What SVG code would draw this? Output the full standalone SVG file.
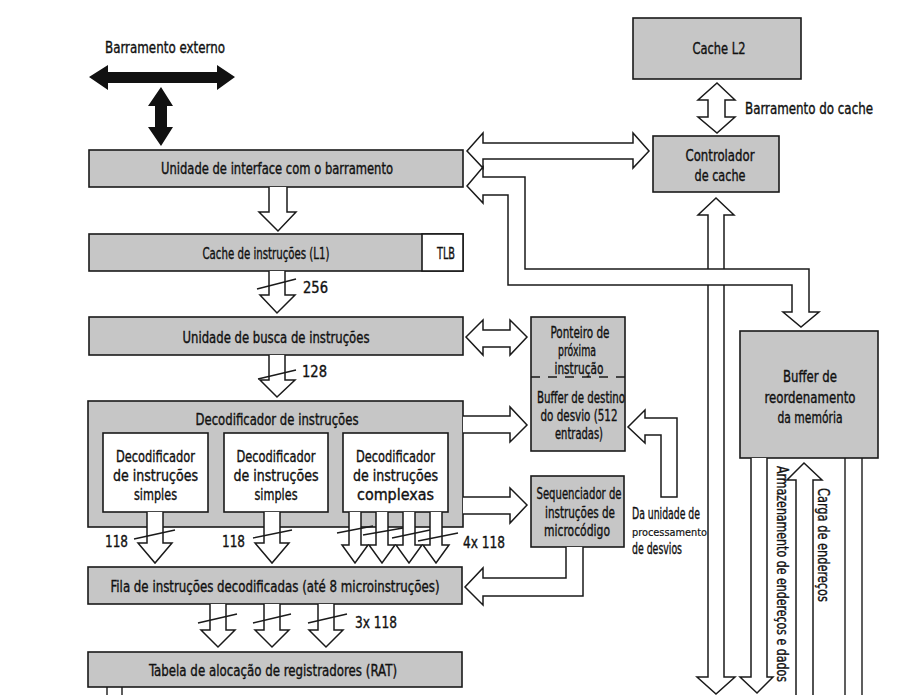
<svg xmlns="http://www.w3.org/2000/svg" width="901" height="695" viewBox="0 0 901 695">
<style>
.box{fill:#c6c6c6;stroke:#1a1a1a;stroke-width:1.6}
.wbox{fill:#ffffff;stroke:#1a1a1a;stroke-width:1.6}
.arr{fill:#ffffff;stroke:#1a1a1a;stroke-width:1.5;stroke-linejoin:miter}
.blk{fill:#111111;stroke:none}
.ln{fill:none;stroke:#1a1a1a;stroke-width:1.4}
text{font-family:"Liberation Sans Narrow","DejaVu Sans Condensed","Liberation Sans",sans-serif;font-size:15px;fill:#111111;stroke:#111111;stroke-width:0.35}
.c{text-anchor:middle}
.sm{font-size:11px;font-family:"DejaVu Sans","Liberation Sans",sans-serif;stroke-width:0.2}
</style>
<rect width="901" height="695" fill="#ffffff"/>

<g id="externo">
<text x="105" y="53" textLength="120" lengthAdjust="spacingAndGlyphs">Barramento externo</text>
</g>

<g id="interface">
<rect class="box" x="89" y="150" width="374" height="37"/>
<text class="c" x="277" y="174" textLength="232" lengthAdjust="spacingAndGlyphs">Unidade de interface com o barramento</text>
</g>

<g id="cacheL1">
<rect class="box" x="89" y="234" width="374" height="37"/>
<rect class="wbox" x="422" y="234" width="41" height="37"/>
<text class="c" x="266" y="259" textLength="127" lengthAdjust="spacingAndGlyphs">Cache de instruções (L1)</text>
<text class="c" x="446" y="259" textLength="18" lengthAdjust="spacingAndGlyphs">TLB</text>
</g>

<g id="busca">
<rect class="box" x="89" y="317" width="374" height="38"/>
<text class="c" x="276" y="343" textLength="187" lengthAdjust="spacingAndGlyphs">Unidade de busca de instruções</text>
</g>

<g id="decodificador">
<rect class="box" x="88" y="401" width="375" height="126"/>
<text class="c" x="277" y="425" textLength="163" lengthAdjust="spacingAndGlyphs">Decodificador de instruções</text>
</g>
<g id="dec-simples-1">
<rect class="wbox" x="103" y="433" width="105" height="79"/>
<text class="c" x="155.5" y="462" textLength="79" lengthAdjust="spacingAndGlyphs">Decodificador</text>
<text class="c" x="155.5" y="481" textLength="85" lengthAdjust="spacingAndGlyphs">de instruções</text>
<text class="c" x="155.5" y="500" textLength="43" lengthAdjust="spacingAndGlyphs">simples</text>
</g>
<g id="dec-simples-2">
<rect class="wbox" x="224" y="433" width="104" height="79"/>
<text class="c" x="276" y="462" textLength="79" lengthAdjust="spacingAndGlyphs">Decodificador</text>
<text class="c" x="276" y="481" textLength="85" lengthAdjust="spacingAndGlyphs">de instruções</text>
<text class="c" x="276" y="500" textLength="43" lengthAdjust="spacingAndGlyphs">simples</text>
</g>
<g id="dec-complexas">
<rect class="wbox" x="343" y="433" width="105" height="79"/>
<text class="c" x="395.5" y="462" textLength="79" lengthAdjust="spacingAndGlyphs">Decodificador</text>
<text class="c" x="395.5" y="481" textLength="85" lengthAdjust="spacingAndGlyphs">de instruções</text>
<text class="c" x="395.5" y="500" textLength="77" lengthAdjust="spacingAndGlyphs">complexas</text>
</g>

<g id="fila">
<rect class="box" x="88" y="567" width="374" height="37"/>
<text class="c" x="275" y="592" textLength="329" lengthAdjust="spacingAndGlyphs">Fila de instruções decodificadas (até 8 microinstruções)</text>
</g>

<g id="rat">
<rect class="box" x="88" y="652" width="374" height="35"/>
<text class="c" x="273" y="676" textLength="248" lengthAdjust="spacingAndGlyphs">Tabela de alocação de registradores (RAT)</text>
</g>

<g id="cacheL2">
<rect class="box" x="633" y="18" width="168" height="61"/>
<text class="c" x="719" y="54" textLength="53" lengthAdjust="spacingAndGlyphs">Cache L2</text>
</g>

<g id="controlador">
<rect class="box" x="653" y="136" width="126" height="56"/>
<text class="c" x="720" y="161" textLength="69" lengthAdjust="spacingAndGlyphs">Controlador</text>
<text class="c" x="720" y="181" textLength="51" lengthAdjust="spacingAndGlyphs">de cache</text>
</g>

<g id="ponteiro-btb">
<rect class="box" x="531" y="317" width="94" height="134"/>
<line x1="531" y1="377" x2="625" y2="377" stroke="#1a1a1a" stroke-width="1.5" stroke-dasharray="9,8"/>
<text class="c" x="580" y="338" textLength="59" lengthAdjust="spacingAndGlyphs">Ponteiro de</text>
<text class="c" x="577" y="356" textLength="38" lengthAdjust="spacingAndGlyphs">próxima</text>
<text class="c" x="579" y="374" textLength="49" lengthAdjust="spacingAndGlyphs">instrução</text>
<text class="c" x="581" y="403" textLength="88" lengthAdjust="spacingAndGlyphs">Buffer de destino</text>
<text class="c" x="579" y="421" textLength="77" lengthAdjust="spacingAndGlyphs">do desvio (512</text>
<text class="c" x="579" y="439" textLength="48" lengthAdjust="spacingAndGlyphs">entradas)</text>
</g>

<g id="sequenciador">
<rect class="box" x="531" y="476" width="93" height="71"/>
<text class="c" x="579" y="499" textLength="85" lengthAdjust="spacingAndGlyphs">Sequenciador de</text>
<text class="c" x="580" y="518" textLength="70" lengthAdjust="spacingAndGlyphs">instruções de</text>
<text class="c" x="577" y="536" textLength="66" lengthAdjust="spacingAndGlyphs">microcódigo</text>
</g>

<g id="unidade-desvios">
<text x="632" y="519" textLength="68" lengthAdjust="spacingAndGlyphs">Da unidade de</text>
<text class="sm" x="632" y="536" textLength="75" lengthAdjust="spacingAndGlyphs">processamento</text>
<text x="632" y="554" textLength="50" lengthAdjust="spacingAndGlyphs">de desvios</text>
</g>

<g id="reordenamento">
<rect class="box" x="740" y="331" width="138" height="127"/>
<text class="c" x="810" y="382" textLength="54" lengthAdjust="spacingAndGlyphs">Buffer de</text>
<text class="c" x="810" y="403" textLength="91" lengthAdjust="spacingAndGlyphs">reordenamento</text>
<text class="c" x="810" y="423" textLength="65" lengthAdjust="spacingAndGlyphs">da memória</text>
</g>

<g id="connectors">
<!-- external bus -->
<polygon class="blk" points="89,77 108,65 108,72 217,72 217,65 235,77 217,90 217,83 108,83 108,90"/>
<polygon class="blk" points="161,87 173,106 167,106 167,127 173,127 161,146 148,127 155,127 155,106 148,106"/>

<!-- interface -> L1 -->
<path class="arr" d="M269,187 V212 H259 L278,231 L296,212 H287 V187"/>
<!-- L1 -> busca (256) -->
<path class="arr" d="M269,271 V295 H260 L277,313 L295,295 H285 V271"/>
<line class="ln" x1="257" y1="289" x2="296" y2="279"/>
<text x="303" y="293" textLength="25" lengthAdjust="spacingAndGlyphs">256</text>
<!-- busca -> decoder (128) -->
<path class="arr" d="M269,355 V380 H260 L277,397 L295,380 H285 V355"/>
<line class="ln" x1="258" y1="379" x2="296" y2="370"/>
<text x="302" y="377" textLength="25" lengthAdjust="spacingAndGlyphs">128</text>

<!-- simple decoders -> fila -->
<path class="arr" d="M147,512 V543 H138 L155,563 L172,543 H163 V512"/>
<line class="ln" x1="134" y1="539" x2="175" y2="530"/>
<text x="105" y="547" textLength="23" lengthAdjust="spacingAndGlyphs">118</text>
<path class="arr" d="M264,512 V543 H255 L272,563 L289,543 H280 V512"/>
<line class="ln" x1="253" y1="538" x2="292" y2="530"/>
<text x="222" y="547" textLength="23" lengthAdjust="spacingAndGlyphs">118</text>
<!-- complex decoder -> fila (4x) -->
<path class="arr" d="M349,512 V545 H342 L355,563 L368,545 H361 V512"/>
<path class="arr" d="M376,512 V545 H369 L382,563 L395,545 H388 V512"/>
<path class="arr" d="M403,512 V545 H396 L409,563 L422,545 H415 V512"/>
<path class="arr" d="M430,512 V545 H423 L436,563 L449,545 H442 V512"/>
<line class="ln" x1="337" y1="533" x2="373" y2="526"/>
<line class="ln" x1="363" y1="535" x2="403" y2="528"/>
<line class="ln" x1="392" y1="538" x2="430" y2="530"/>
<line class="ln" x1="418" y1="541" x2="458" y2="533"/>
<text x="463" y="548" textLength="42" lengthAdjust="spacingAndGlyphs">4x 118</text>

<!-- fila -> RAT (3x) -->
<path class="arr" d="M210,604 V630 H201 L218,647 L235,630 H226 V604"/>
<path class="arr" d="M264,604 V630 H255 L272,647 L289,630 H280 V604"/>
<path class="arr" d="M318,604 V630 H309 L326,647 L343,630 H334 V604"/>
<line class="ln" x1="198" y1="623" x2="237" y2="614"/>
<line class="ln" x1="253" y1="623" x2="291" y2="614"/>
<line class="ln" x1="308" y1="623" x2="347" y2="614"/>
<text x="355" y="628" textLength="42" lengthAdjust="spacingAndGlyphs">3x 118</text>
<!-- RAT down -->
<line class="ln" x1="107" y1="687" x2="107" y2="696"/>
<line class="ln" x1="122" y1="687" x2="122" y2="696"/>

<!-- cache bus -->
<polygon class="arr" points="717,83 735,100 725,100 725,117 735,117 717,133 698,117 708,117 708,100 698,100"/>
<text x="745" y="114" textLength="128" lengthAdjust="spacingAndGlyphs">Barramento do cache</text>

<!-- controller vertical double arrow -->
<polygon class="arr" points="716,198 734,215 724,215 724,677 735,677 716,694 697,677 708,677 708,215 698,215"/>

<!-- interface <-> controller -->
<polygon class="arr" points="467,151 483,133 483,143 633,143 633,133 649,151 633,168 633,159 483,159 483,168"/>
<!-- interface <- -> reorder buffer (L) -->
<polygon class="arr" points="483,177 525,177 525,269 809,269 809,312 819,312 801,327 783,312 792,312 792,285 508,285 508,195 483,195 483,203 467,186 483,167"/>

<!-- busca <-> ponteiro -->
<polygon class="arr" points="466,337 483,320 483,330 510,330 510,320 527,337 510,355 510,347 483,347 483,355"/>
<!-- decoder -> BTB -->
<path class="arr" d="M463,416 H510 V407 L527,425 L510,442 V433 H463"/>
<!-- decoder -> sequenciador -->
<path class="arr" d="M463,497 H510 V488 L527,505 L510,523 V514 H463"/>
<!-- branch unit -> BTB -->
<polygon class="arr" points="677,497 677,418 645,418 645,410 628,427 645,443 645,435 661,435 661,497"/>
<!-- sequenciador -> fila -->
<path class="arr" d="M566,547 V578 H483 V568 L465,587 L483,605 V596 H583 V547"/>

<!-- reorder buffer outputs -->
<path class="arr" d="M751,458 V677 H740 L757,693 L773,677 H767 V458"/>
<text transform="translate(777,466) rotate(90)" x="0" y="0" textLength="216" lengthAdjust="spacingAndGlyphs">Armazenamento de endereços e dados</text>
<path class="arr" d="M796,696 V480 H787 L804,463 L822,480 H813 V696"/>
<text transform="translate(818,488) rotate(90)" x="0" y="0" textLength="114" lengthAdjust="spacingAndGlyphs">Carga de endereços</text>
<line class="ln" x1="845" y1="458" x2="845" y2="696"/>
<line class="ln" x1="862" y1="458" x2="862" y2="696"/>
</g>
</svg>
